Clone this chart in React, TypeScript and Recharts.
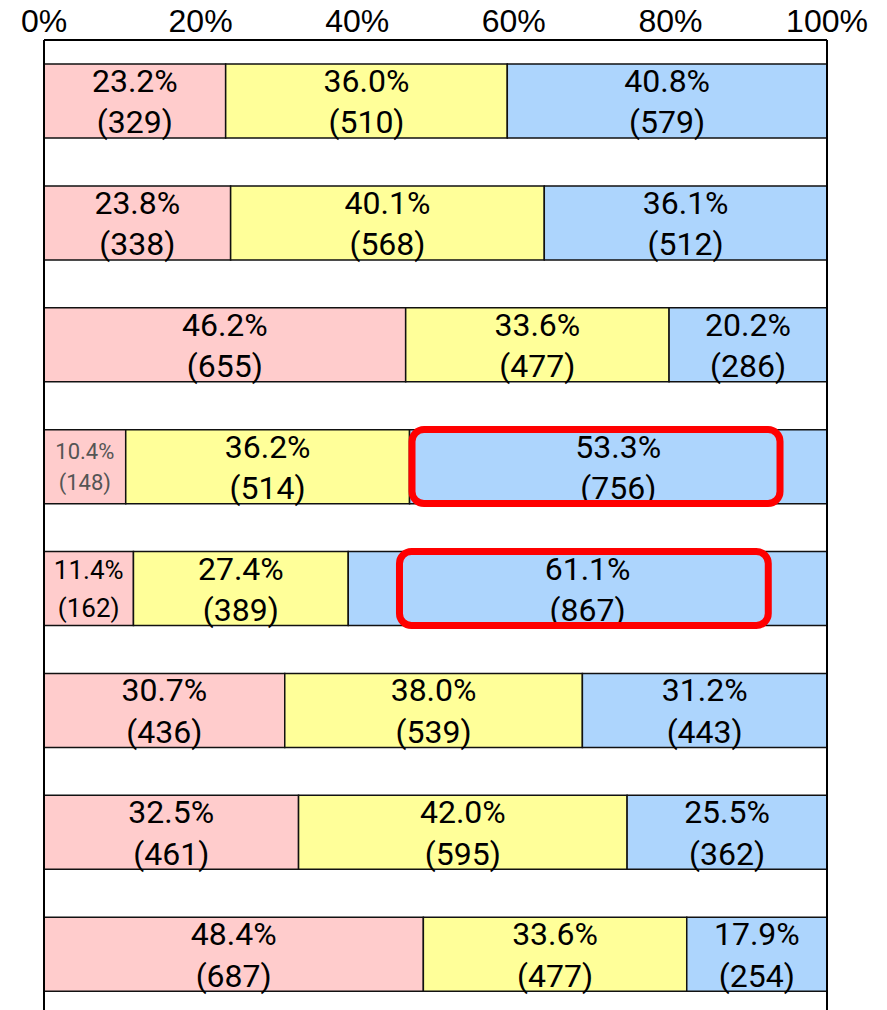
import { BarChart, Bar, XAxis, YAxis, LabelList, ReferenceArea, ReferenceLine } from "recharts";

const rows = ["r1", "r2", "r3", "r4", "r5", "r6", "r7", "r8"];
const pinkCount = [329, 338, 655, 148, 162, 436, 461, 687];
const yellowCount = [510, 568, 477, 514, 389, 539, 595, 477];
const blueCount = [579, 512, 286, 756, 867, 443, 362, 254];
const pinkPct = [23.2, 23.8, 46.2, 10.4, 11.4, 30.7, 32.5, 48.4];
const yellowPct = [36.0, 40.1, 33.6, 36.2, 27.4, 38.0, 42.0, 33.6];
const bluePct = [40.8, 36.1, 20.2, 53.3, 61.1, 31.2, 25.5, 17.9];
const xTicks = [0, 0.2, 0.4, 0.6, 0.8, 1];

// red highlight boxes (row, start share, end share)
const highlightRows = ["r4", "r5"];
const highlightFrom = [0.47, 0.454];
const highlightTo = [0.94, 0.925];

const FONT = "Roboto, 'Liberation Sans', sans-serif";
const TICK_FONT = "'Liberation Sans', Arial, sans-serif";
const BAR_H = 74;

const data = rows.map((name, i) => ({
  name,
  pink: pinkCount[i],
  yellow: yellowCount[i],
  blue: blueCount[i],
}));

type Small = { size: number; fill: string; top: number; bottom: number };

function twoLine(pct: number[], cnt: number[], small?: Record<number, Small>) {
  return (props: any) => {
    const vb = props.viewBox || {};
    const x = props.x ?? vb.x;
    const y = props.y ?? vb.y;
    const width = props.width ?? vb.width;
    const height = props.height ?? vb.height;
    const i = props.index;
    if (i == null || x == null) return null;
    const s = small?.[i];
    const fontSize = s ? s.size : 32;
    const fill = s ? s.fill : "#000";
    const cx = x + width / 2;
    return (
      <g>
        <text x={cx} y={y + height * (s ? s.top : 0.23)} textAnchor="middle" dominantBaseline="central" fontFamily={FONT} fontSize={fontSize} fill={fill}>
          {pct[i].toFixed(1)}%
        </text>
        <text x={cx} y={y + height * (s ? s.bottom : 0.79)} textAnchor="middle" dominantBaseline="central" fontFamily={FONT} fontSize={fontSize} fill={fill}>
          ({cnt[i]})
        </text>
      </g>
    );
  };
}

const highlightShape = (p: any) => (
  <rect
    x={p.x}
    y={p.y + p.height / 2 - BAR_H / 2}
    width={p.width}
    height={BAR_H}
    rx={12}
    ry={12}
    fill="none"
    stroke="#FF0000"
    strokeWidth={7}
  />
);

const TopTick = (props: any) => {
  const { x, payload } = props;
  return (
    <text x={x} y={32} textAnchor="middle" fontFamily={TICK_FONT} fontSize={32} fill="#000">
      {`${Math.round(payload.value * 100)}%`}
    </text>
  );
};

export default function App() {
  return (
    <div style={{ position: "absolute", left: 0, top: 0, width: 887, height: 1010, overflow: "hidden", background: "#fff" }}>
      <BarChart
        width={887}
        height={1015}
        data={data}
        layout="vertical"
        stackOffset="expand"
        barSize={BAR_H}
        margin={{ top: 0, right: 60, bottom: 0, left: 44 }}
      >
        <XAxis
          type="number"
          orientation="top"
          domain={[0, 1]}
          ticks={xTicks}
          height={40}
          tickLine={false}
          axisLine={{ stroke: "#000", strokeWidth: 2 }}
          tick={<TopTick />}
          interval={0}
        />
        <YAxis type="category" dataKey="name" width={0} tick={false} tickLine={false} axisLine={false} />
        <Bar dataKey="pink" stackId="a" fill="#FFCCCC" stroke="#111" strokeWidth={1.5} isAnimationActive={false}>
          <LabelList
            dataKey="pink"
            content={twoLine(pinkPct, pinkCount, {
              3: { size: 22, fill: "#555", top: 0.3, bottom: 0.71 },
              4: { size: 26, fill: "#000", top: 0.25, bottom: 0.77 },
            })}
          />
        </Bar>
        <Bar dataKey="yellow" stackId="a" fill="#FFFF99" stroke="#111" strokeWidth={1.5} isAnimationActive={false}>
          <LabelList dataKey="yellow" content={twoLine(yellowPct, yellowCount)} />
        </Bar>
        <Bar dataKey="blue" stackId="a" fill="#ADD5FD" stroke="#111" strokeWidth={1.5} isAnimationActive={false}>
          <LabelList dataKey="blue" content={twoLine(bluePct, blueCount)} />
        </Bar>
        <ReferenceLine x={0} stroke="#000" strokeWidth={2} />
        <ReferenceLine x={1} stroke="#000" strokeWidth={2} />
        {highlightRows.map((r, i) => (
          <ReferenceArea
            key={r}
            y1={r}
            y2={r}
            x1={highlightFrom[i]}
            x2={highlightTo[i]}
            shape={highlightShape}
            zIndex={3000}
          />
        ))}
      </BarChart>
    </div>
  );
}
